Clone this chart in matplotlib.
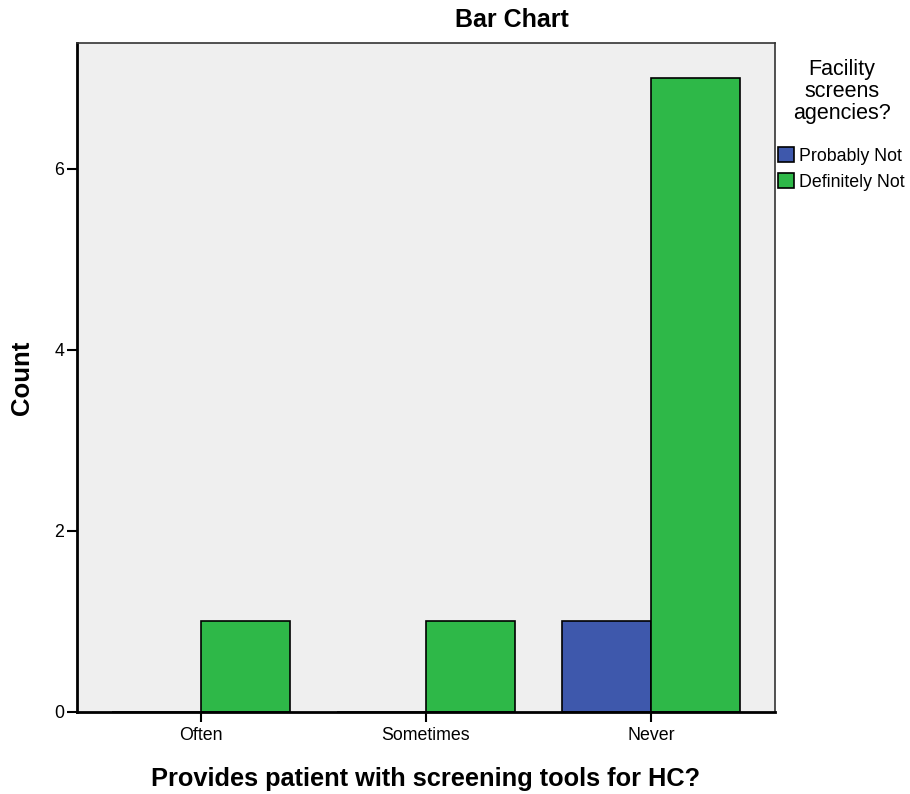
import matplotlib.pyplot as plt
import numpy as np

plt.rcParams['font.family'] = ['Liberation Sans', 'DejaVu Sans']

# data
categories = ['Often', 'Sometimes', 'Never']
series_names = ['Probably Not', 'Definitely Not']
probably_not = [0, 0, 1]
definitely_not = [1, 1, 7]
colors = ['#3E58AC', '#2EB848']

fig = plt.figure(figsize=(9.1, 7.94), dpi=100)
ax = fig.add_axes([0.0846, 0.1033, 0.767, 0.8426])
ax.set_facecolor('#EFEFEF')

x = np.arange(len(categories))
w = 0.396
for vals, off, name, col in [(probably_not, -w / 2, series_names[0], colors[0]),
                             (definitely_not, w / 2, series_names[1], colors[1])]:
    ax.bar(x + off, vals, width=w, color=col, edgecolor='black', linewidth=1.2,
           label=name, zorder=2)

ax.set_xlim(-0.551, 2.551)
ax.set_ylim(0, 7.39)
ax.set_xticks(x)
ax.set_xticklabels(categories)
ax.set_yticks([0, 2, 4, 6])
ax.tick_params(axis='both', direction='out', length=7, width=1.5, labelsize=12.8,
               color='black')
ax.tick_params(axis='y', pad=2)

for side in ['left', 'bottom']:
    ax.spines[side].set_linewidth(2)
for side in ['top', 'right']:
    ax.spines[side].set_linewidth(1.2)
    ax.spines[side].set_color('#333333')

# title sits centred over plot + legend, like the SPSS output
fig.suptitle('Bar Chart', x=512 / 910, y=1 - 27 / 794, va='baseline',
             fontsize=18, fontweight='bold')
ax.set_xlabel('Provides patient with screening tools for HC?', fontsize=18.3,
              fontweight='bold')
ax.xaxis.set_label_coords(0.5, -0.082)
ax.set_ylabel('Count', fontsize=18.5, fontweight='bold')
ax.yaxis.set_label_coords(-0.062, 0.5)

# legend to the right of the plot
fig.text(842 / 910, 1 - 59 / 794, 'Facility\nscreens\nagencies?', ha='center',
         va='top', fontsize=15.5, linespacing=1.05)
handles, labels = ax.get_legend_handles_labels()
leg = fig.legend(handles, labels, loc='upper left',
                 bbox_to_anchor=(778 / 910, 1 - 147 / 794), frameon=False,
                 fontsize=12.8, handlelength=0.9, handleheight=0.9,
                 handletextpad=0.3, labelspacing=0.5, borderaxespad=0.0,
                 borderpad=0.0)

fig.savefig('out.png', dpi=100)
